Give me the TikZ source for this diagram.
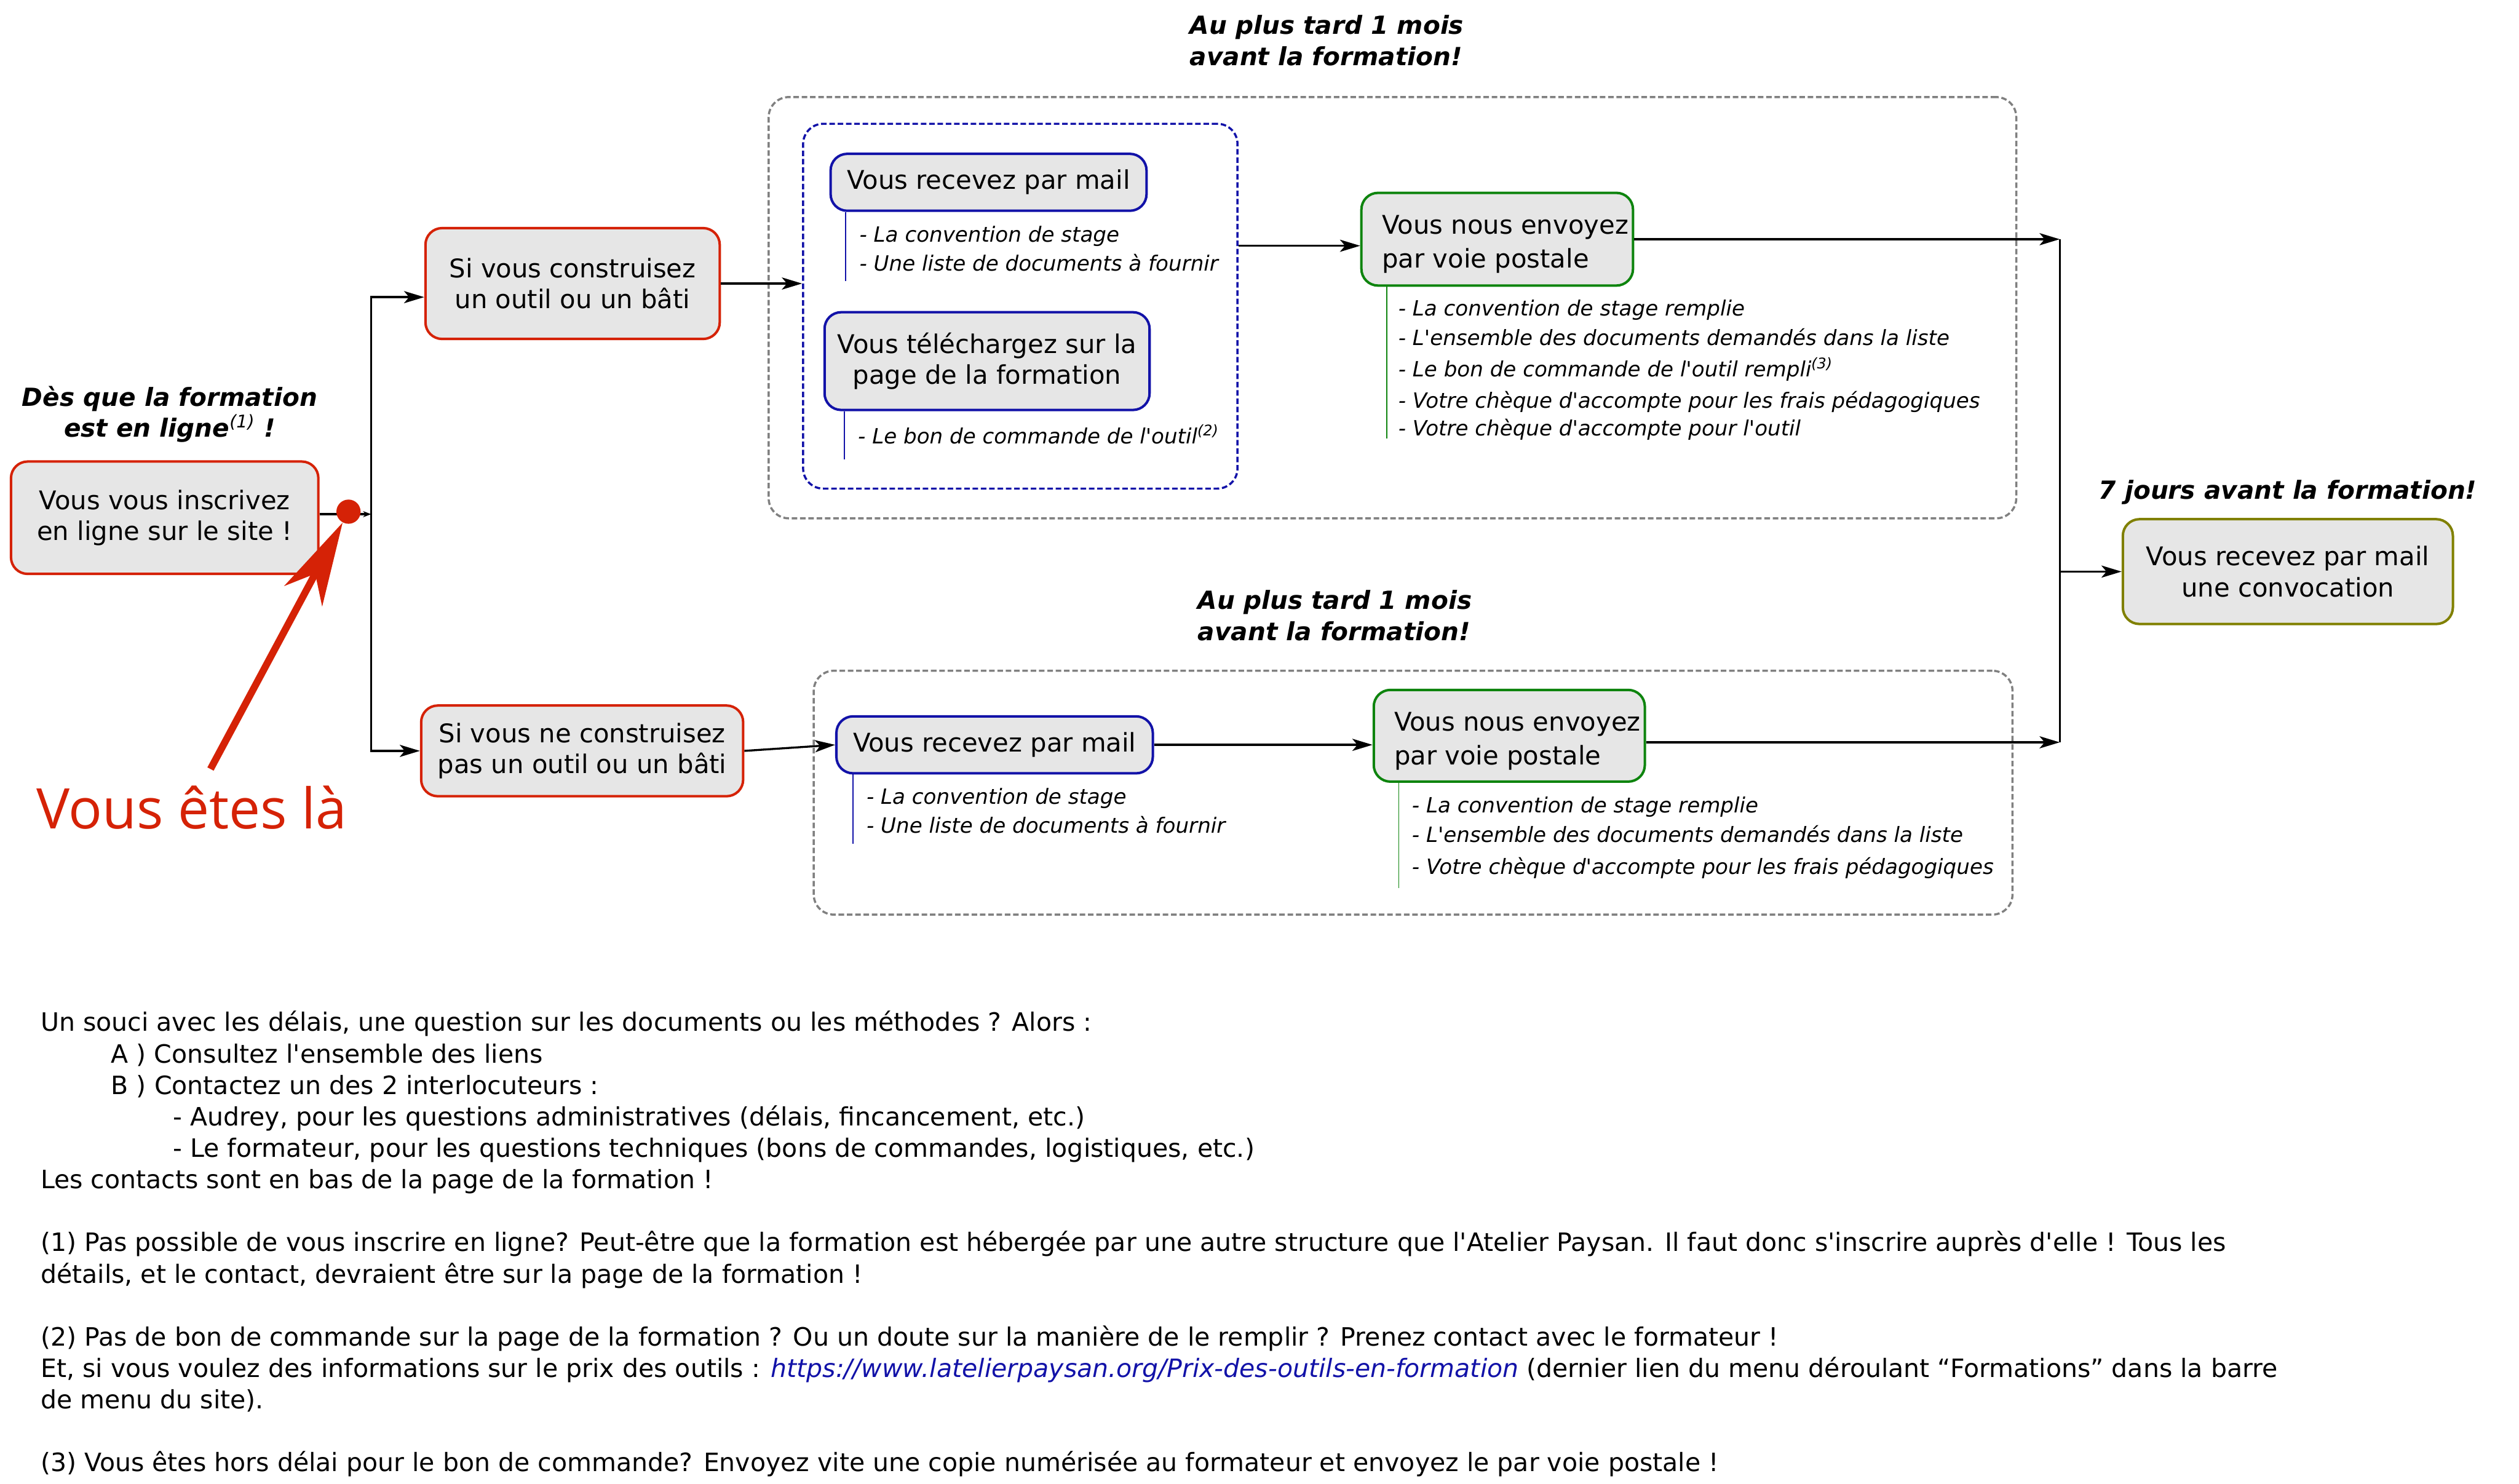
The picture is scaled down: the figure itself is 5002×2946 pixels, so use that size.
\documentclass[tikz,border=0pt]{standalone}
\usepackage{fontspec}
\setmainfont{DejaVu Sans}[Ligatures=TeXOff]
\newfontfamily\etesfont{Open Sans}
\usepackage{xcolor}
\usetikzlibrary{positioning, arrows.meta, calc}

\definecolor{rougeap}{RGB}{213,34,6}
\definecolor{bleuap}{RGB}{18,18,168}
\definecolor{vertap}{RGB}{14,132,14}
\definecolor{oliveap}{RGB}{128,128,0}
\definecolor{grisfond}{RGB}{230,230,230}
\definecolor{grispointille}{RGB}{128,128,128}

\begin{document}
\begin{tikzpicture}[
  x=0.01cm, y=-0.01cm,
  boite/.style={draw=#1, line width=1.4pt, rounded corners=0.33cm, fill=grisfond, align=center, inner sep=0pt, font=\fontsize{14.5}{17.4}\selectfont},
  postale/.style={boite=vertap, align=left},
  groupe/.style={draw=#1, line width=1.2pt, dash pattern=on 0.11cm off 0.055cm, rounded corners=0.4cm, inner sep=0pt},
  liste/.style={anchor=north west, align=left, inner sep=0pt, font=\fontsize{11.85}{16.5}\selectfont\itshape},
  titre/.style={align=left, inner sep=0pt, font=\fontsize{14.1}{17.6}\selectfont\bfseries\itshape},
  trait/.style={draw=#1, line width=0.6pt},
  arr/.style={-{Stealth[length=0.4cm, width=0.24cm, inset=0.1cm]}, line width=1.15pt},
  petitarr/.style={-{Stealth[length=0.16cm, width=0.12cm]}, line width=1.15pt},
  flecherouge/.style={-{Stealth[length=1.65cm, width=0.85cm, inset=0.5cm]}, line width=4pt, draw=rougeap}
]
  \useasboundingbox (0,0) rectangle (5002,2946);

  % Groupes en pointillés
  \node[groupe=grispointille, minimum width=24.76cm, minimum height=8.36cm] (grpHaut) at (2765,611) {};
  \node[groupe=grispointille, minimum width=23.79cm, minimum height=4.84cm] (grpBas) at (2806,1574) {};
  \node[groupe=bleuap, minimum width=8.62cm, minimum height=7.24cm] (grpMail) at (2026,608) {};

  % Inscription
  \node[boite=rougeap, minimum width=6.10cm, minimum height=2.23cm] (inscr) at (327,1028) {Vous vous inscrivez\\en ligne sur le site !};
  \node[titre, align=center, anchor=north] (desLigne) at (337,766) {Dès que la formation\\est en ligne\textsuperscript{\mdseries(1)} !};

  \node[boite=rougeap, minimum width=5.84cm, minimum height=2.20cm] (constr) at (1137,563) {Si vous construisez\\un outil ou un bâti};
  \node[boite=rougeap, minimum width=6.39cm, minimum height=1.80cm] (nocon) at (1156,1491) {Si vous ne construisez\\pas un outil ou un bâti};

  % Branche haute
  \node[titre, anchor=north west] (delaiHaut) at (2362,30) {Au plus tard 1 mois\\avant la formation!};
  \node[boite=bleuap, minimum width=6.27cm, minimum height=1.13cm] (mailA) at (1963,362) {Vous recevez par mail};
  \node[liste] (listeMailA) at (1706,448) {- La convention de stage\\- Une liste de documents à fournir};
  \node[boite=bleuap, minimum width=6.45cm, minimum height=1.94cm] (telech) at (1960,717) {Vous téléchargez sur la\\page de la formation};
  \node[liste, anchor=base west] (listeTelech) at (1703,881) {- Le bon de commande de l'outil\textsuperscript{(2)}};
  \node[postale, minimum width=5.39cm, minimum height=1.84cm] (postA) at (2973,475) {\rule{0pt}{0.58cm}\hspace*{0.32cm}Vous nous envoyez\\[0.06cm]\hspace*{0.32cm}par voie postale};
  \node[liste] (listePostA) at (2776,595) {- La convention de stage remplie\\- L'ensemble des documents demandés dans la liste\\[0.04cm]- Le bon de commande de l'outil rempli\textsuperscript{(3)}\\[0.05cm]- Votre chèque d'accompte pour les frais pédagogiques\\[-0.03cm]- Votre chèque d'accompte pour l'outil};

  % Branche basse
  \node[titre, anchor=north west] (delaiBas) at (2378,1171) {Au plus tard 1 mois\\avant la formation!};
  \node[boite=bleuap, minimum width=6.28cm, minimum height=1.13cm] (mailB) at (1975,1479) {Vous recevez par mail};
  \node[liste] (listeMailB) at (1720,1564) {- La convention de stage\\- Une liste de documents à fournir};
  \node[postale, minimum width=5.38cm, minimum height=1.82cm] (postB) at (2997,1461) {\rule{0pt}{0.58cm}\hspace*{0.32cm}Vous nous envoyez\\[0.06cm]\hspace*{0.32cm}par voie postale};
  \node[liste] (listePostB) at (2803,1582) {- La convention de stage remplie\\- L'ensemble des documents demandés dans la liste\\[0.05cm]- Votre chèque d'accompte pour les frais pédagogiques};

  % Convocation
  \node[titre, anchor=base west] (septJours) at (4167,991) {7 jours avant la formation!};
  \node[boite=oliveap, minimum width=6.55cm, minimum height=2.08cm] (convoc) at (4543,1135) {Vous recevez par mail\\une convocation};

  % Traits des listes
  \draw[trait=bleuap] ([xshift=0.32cm]mailA.south west) -- ++(0,137);
  \draw[trait=bleuap] ([xshift=0.42cm]telech.south west) -- ++(0,96);
  \draw[trait=vertap] ([xshift=0.53cm]postA.south west) -- ++(0,301);
  \draw[trait=bleuap] ([xshift=0.35cm]mailB.south west) -- ++(0,137);
  \draw[trait=vertap] ([xshift=0.52cm]postB.south west) -- ++(0,209);

  % Liaisons
  \coordinate (jL) at (737,1021);
  \coordinate (jR) at (4090,475);
  \coordinate (jRbas) at (4090,1474);
  \draw[petitarr] (inscr.east |- jL) -- (jL);
  \draw[arr] (jL) |- ([yshift=-0.27cm]constr.west);
  \draw[arr] (jL) |- (nocon.west);
  \draw[arr] (constr.east) -- (constr.east -| grpMail.west);
  \draw[arr] ([yshift=-0.13cm]postA.west -| grpMail.east) -- ([yshift=-0.13cm]postA.west);
  \draw[arr] (postA.east) -- (jR);
  \draw[arr] (nocon.east) -- (mailB.west);
  \draw[arr] (mailB.east) -- (mailB.east -| postB.west);
  \draw[arr] (postB.east |- jRbas) -- (jRbas);
  \draw[line width=1.15pt] (jR) -- (jRbas);
  \draw[arr] (convoc.west -| jR) -- (convoc.west);

  % Vous êtes là
  \node[circle, fill=rougeap, minimum size=0.48cm, inner sep=0pt] (pointRouge) at (692,1016) {};
  \coordinate (queue) at (418,1527);
  \draw[flecherouge] (queue) -- (pointRouge);
  \node[anchor=base west, inner sep=0pt, text=rougeap, font=\etesfont\fontsize{31.6}{37}\selectfont] (vousEtesLa) at (72,1645) {Vous êtes là};

  % Notes
  \node[anchor=north west, align=left, inner sep=0pt, font=\fontsize{14.25}{17.76}\selectfont] (notes) at (80,2007) {Un souci avec les délais, une question sur les documents ou les méthodes ? Alors :\\
    \hspace*{1.40cm}A ) Consultez l'ensemble des liens\\
    \hspace*{1.40cm}B ) Contactez un des 2 interlocuteurs :\\
    \hspace*{2.63cm}- Audrey, pour les questions administratives (délais, fincancement, etc.)\\
    \hspace*{2.63cm}- Le formateur, pour les questions techniques (bons de commandes, logistiques, etc.)\\
    Les contacts sont en bas de la page de la formation !\\[0.624cm]
    (1) Pas possible de vous inscrire en ligne? Peut-être que la formation est hébergée par une autre structure que l'Atelier Paysan. Il faut donc s'inscrire auprès d'elle ! Tous les\\
    détails, et le contact, devraient être sur la page de la formation !\\[0.624cm]
    (2) Pas de bon de commande sur la page de la formation ? Ou un doute sur la manière de le remplir ? Prenez contact avec le formateur !\\
    Et, si vous voulez des informations sur le prix des outils : {\color{bleuap}\itshape https://www.latelierpaysan.org/Prix-des-outils-en-formation} (dernier lien du menu déroulant “Formations” dans la barre\\
    de menu du site).\\[0.624cm]
    (3) Vous êtes hors délai pour le bon de commande? Envoyez vite une copie numérisée au formateur et envoyez le par voie postale !};
\end{tikzpicture}
\end{document}
